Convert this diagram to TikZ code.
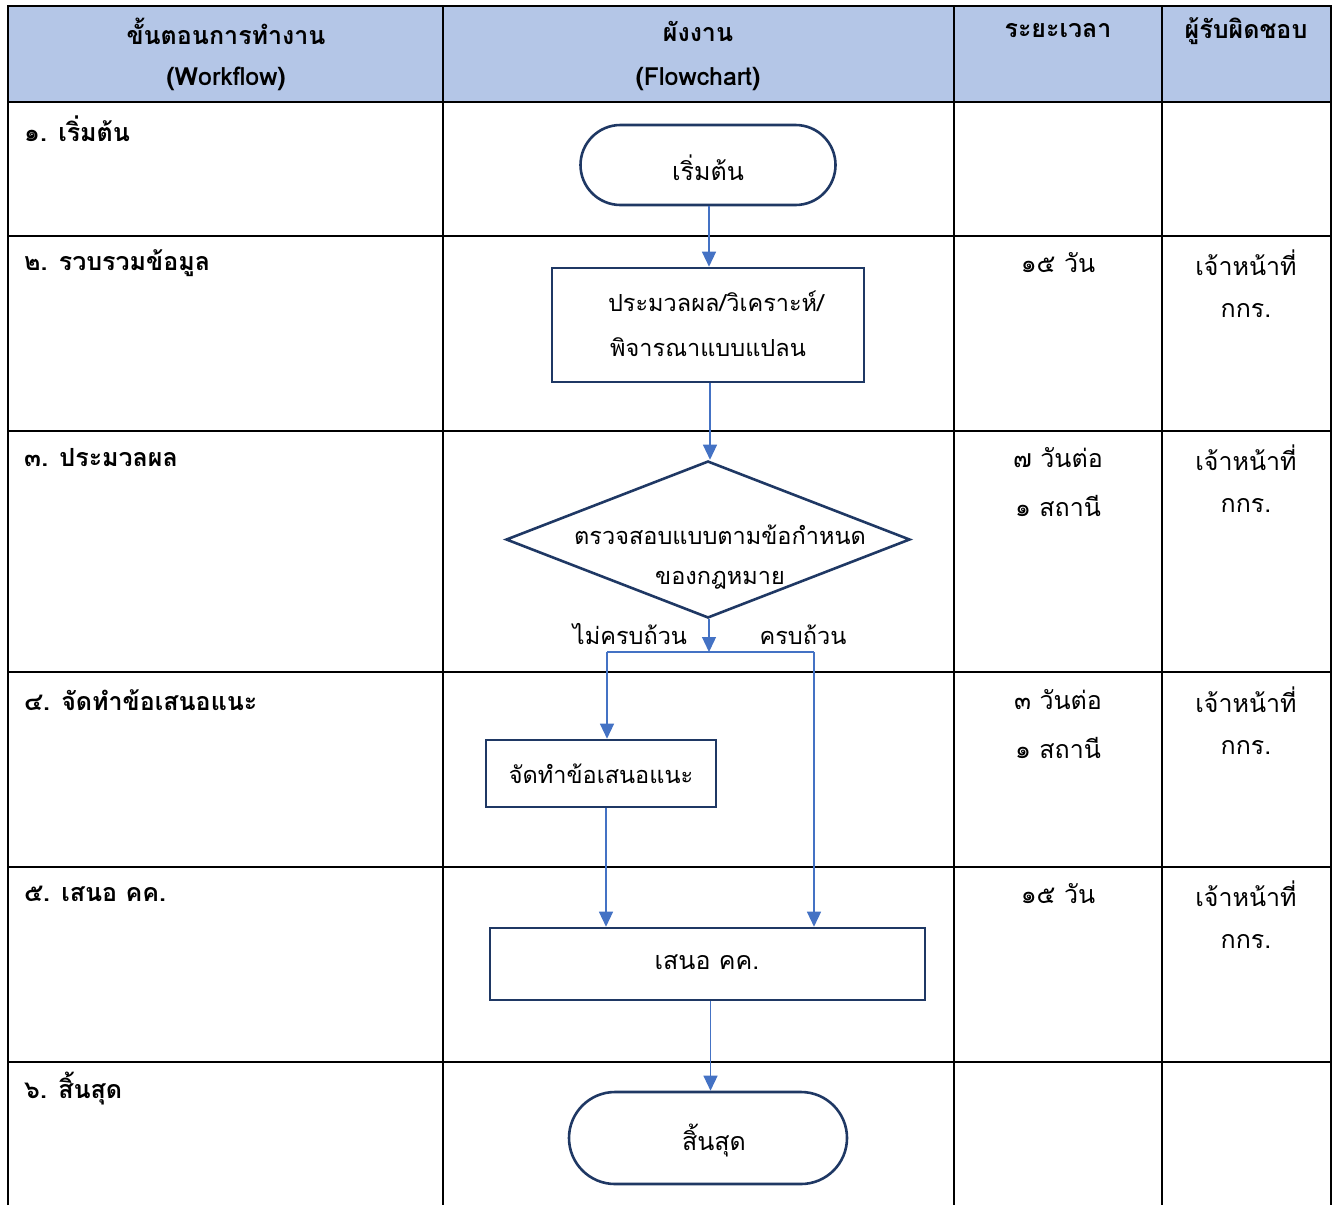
\documentclass[tikz,border=0pt]{standalone}
\usepackage{fontspec}
\setmainfont[Script=Thai]{Loma}
\usetikzlibrary{arrows.meta,shapes.geometric}
\definecolor{hdr}{HTML}{B4C6E7}
\definecolor{navy}{HTML}{1F3864}
\definecolor{arrblue}{HTML}{4472C4}
\begin{document}
\begin{tikzpicture}[x=1pt,y=-1pt,
  grid/.style={line width=2.6pt,black},
  hd/.style={font=\fontsize{25}{30}\selectfont\bfseries,anchor=center,inner sep=0},
  lab/.style={font=\fontsize{25}{30}\selectfont\bfseries,anchor=west,inner sep=0},
  txt/.style={font=\fontsize{25}{30}\selectfont,anchor=center,inner sep=0},
  stxt/.style={font=\fontsize{23.5}{28}\selectfont,anchor=center,inner sep=0},
  term/.style={draw=navy,line width=2.6pt,rounded corners=#1,inner sep=0},
  pbox/.style={draw=navy,line width=2.6pt,inner sep=0},
  dbox/.style={draw=navy,line width=2.6pt,diamond,inner sep=0},
  ln/.style={draw=arrblue,line width=1.3pt},
  arr/.style={ln,-{Triangle[width=14pt,length=15pt]}}]
\useasboundingbox (0,0) rectangle (1332,1205);
% header fill
\fill[hdr] (8,6) rectangle (1331,102);
% grid
\draw[grid] (8,1205) -- (8,6) -- (1331,6) -- (1331,1205);
\foreach \x in {443,954,1162} \draw[grid] (\x,6) -- (\x,1205);
\foreach \y in {102,236,431,672,867,1062} \draw[grid] (8,\y) -- (1331,\y);
% header texts
\node[hd] (h1a) at (226,31) {ขั้นตอนการทำงาน};
\node[hd] (h1b) at (226,79) {(Workflow)};
\node[hd] (h2a) at (698,31) {ผังงาน};
\node[hd] (h2b) at (698,79) {(Flowchart)};
\node[hd] (h3) at (1058,31) {ระยะเวลา};
\node[hd] (h4) at (1246,31) {ผู้รับผิดชอบ};
% row labels
\node[lab] (r1) at (24,129) {๑. เริ่มต้น};
\node[lab] (r2) at (24,263) {๒. รวบรวมข้อมูล};
\node[lab] (r3) at (24,458) {๓. ประมวลผล};
\node[lab] (r4) at (24,700) {๔. จัดทำข้อเสนอแนะ};
\node[lab] (r5) at (24,894) {๕. เสนอ คค.};
\node[lab] (r6) at (24,1088) {๖. สิ้นสุด};
% durations
\node[txt] (t2) at (1058,263) {๑๕ วัน};
\node[txt] (t3a) at (1058,458) {๗ วันต่อ};
\node[txt] (t3b) at (1058,506) {๑ สถานี};
\node[txt] (t4a) at (1058,700) {๓ วันต่อ};
\node[txt] (t4b) at (1058,748) {๑ สถานี};
\node[txt] (t5) at (1058,894) {๑๕ วัน};
% responsible
\foreach \n/\y in {2/263,3/458,4/700,5/894}{
  \node[txt] (p\n a) at (1246,\y) {เจ้าหน้าที่};
  \node[txt] (p\n b) at (1246,\y+48) {กกร.};
}
% flowchart
\node[term=40pt,minimum width=255pt,minimum height=80pt] (start) at (708,165) {};
\node[txt] (starttxt) at (708,168) {เริ่มต้น};
\node[pbox,minimum width=312pt,minimum height=114pt] (b1) at (708,325) {};
\node[stxt] (b1a) at (716,301) {ประมวลผล/วิเคราะห์/};
\node[stxt] (b1b) at (708,347) {พิจารณาแบบแปลน};
\node[dbox,minimum width=404pt,minimum height=157pt] (d) at (708,539.5) {};
\node[stxt] (da) at (720,535) {ตรวจสอบแบบตามข้อกำหนด};
\node[stxt] (db) at (720,580) {ของกฎหมาย};
\node[pbox,minimum width=230pt,minimum height=67pt] (b2) at (601,773.5) {};
\node[stxt] (b2t) at (601,774) {จัดทำข้อเสนอแนะ};
\node[pbox,minimum width=435pt,minimum height=72pt] (b3) at (707.5,964) {};
\node[txt] (b3t) at (707,962) {เสนอ คค.};
\node[term=46pt,minimum width=278pt,minimum height=92pt] (end) at (708,1138) {};
\node[txt] (endtxt) at (714,1140) {สิ้นสุด};
% branch labels
\node[stxt] (no) at (630,634) {ไม่ครบถ้วน};
\node[stxt] (yes) at (803,635) {ครบถ้วน};
% connectors
\coordinate (sp) at (709,652);
\coordinate (spl) at (607,652);
\coordinate (spr) at (814,652);
\draw[arr] ([xshift=1pt]start.south) -- ([xshift=1pt]start.south |- b1.north);
\draw[arr] ([xshift=2pt]b1.south) -- ([xshift=2pt]b1.south |- d.north);
\draw[arr] ([xshift=1pt]d.south) -- (sp);
\draw[ln] (spl) -- (spr);
\draw[arr] (spl) -- (spl |- b2.north);
\draw[arr] (spr) -- (spr |- b3.north);
\draw[arr] ([xshift=5pt]b2.south) -- ([xshift=5pt]b2.south |- b3.north);
\draw[arr] ([xshift=3pt]b3.south) -- ([xshift=3pt]b3.south |- end.north);
\end{tikzpicture}
\end{document}
